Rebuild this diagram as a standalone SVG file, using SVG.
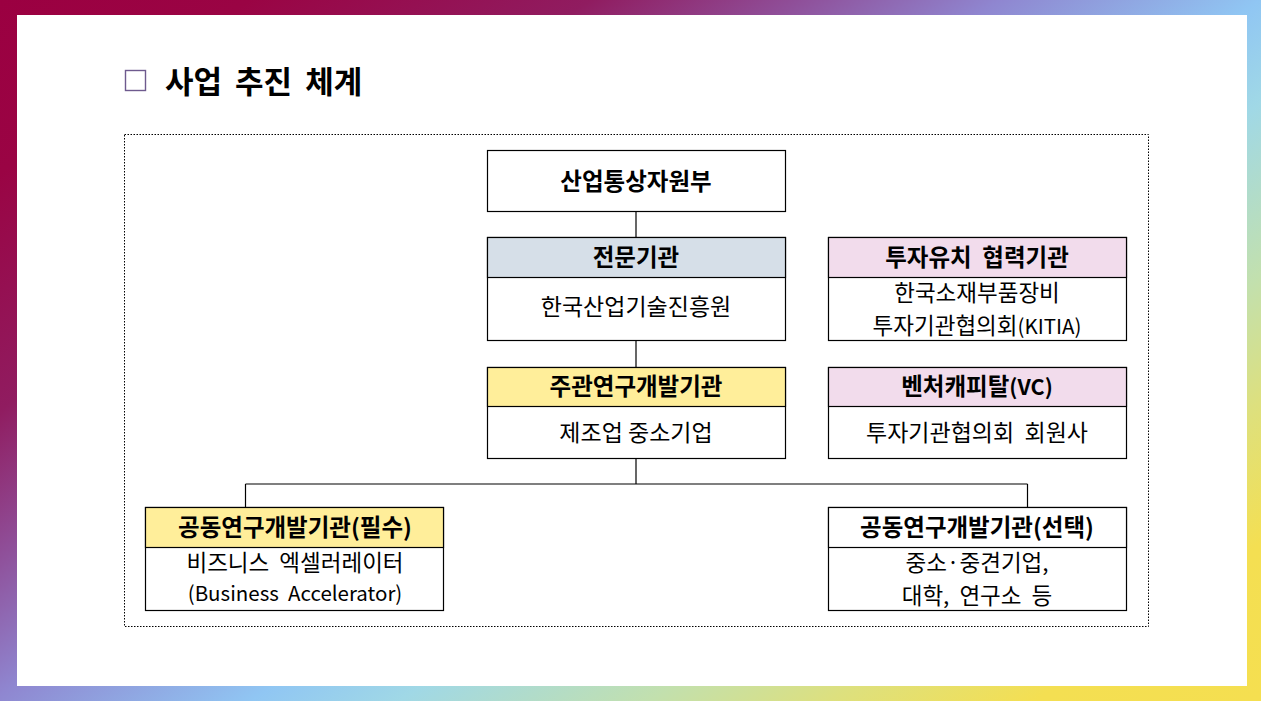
<svg xmlns="http://www.w3.org/2000/svg" width="1261" height="701" viewBox="0 0 1261 701">
<defs>
<linearGradient id="frame" gradientUnits="userSpaceOnUse" x1="0" y1="0" x2="739" y2="1064">
<stop offset="0" stop-color="#9B0041"/>
<stop offset="0.11" stop-color="#9A0444"/>
<stop offset="0.26" stop-color="#901C60"/>
<stop offset="0.35" stop-color="#8F4E98"/>
<stop offset="0.44" stop-color="#8F86D0"/>
<stop offset="0.555" stop-color="#90C6F3"/>
<stop offset="0.62" stop-color="#A0D8E6"/>
<stop offset="0.73" stop-color="#C2E0AE"/>
<stop offset="0.81" stop-color="#DDE07E"/>
<stop offset="0.9" stop-color="#F4DF52"/>
<stop offset="1" stop-color="#F5DF50"/>
</linearGradient>
<style>
.box{fill:#FFFFFF;stroke:#000;stroke-width:1.2}
.hd{stroke:#000;stroke-width:1.2}
.blue{fill:#D6DFE8}
.pink{fill:#F2DCEC}
.yel{fill:#FFEE9A}
.wht{fill:#FFFFFF}
.t{font-family:"Malgun Gothic","Noto Sans CJK KR","Noto Sans",sans-serif;font-size:23px;fill:#000;text-anchor:middle;white-space:pre}
.b{font-weight:bold;font-size:23.5px}
.two{font-size:22.5px}
.lat{font-size:20.5px}
.conn line{stroke:#000;stroke-width:1.2;fill:none}
</style>
</defs>
<rect x="0" y="0" width="1261" height="701" fill="url(#frame)"/>
<rect x="17" y="15" width="1230" height="671" fill="#FFFFFF"/>

<g id="title">
<rect x="125.5" y="70.5" width="20" height="20" fill="none" stroke="#6E5A8E" stroke-width="1.4"/>
<text x="165" y="93" font-family="'Malgun Gothic','Noto Sans CJK KR',sans-serif" font-size="31" font-weight="bold" fill="#000" word-spacing="6">사업 추진 체계</text>
</g>

<rect id="container" x="124.5" y="134.5" width="1024" height="492" fill="none" stroke="#000" stroke-width="1" stroke-dasharray="1.5 1.5"/>

<g class="conn" id="connectors">
<line x1="636" y1="211" x2="636" y2="237"/>
<line x1="636" y1="340" x2="636" y2="367"/>
<line x1="636" y1="458" x2="636" y2="484"/>
<line x1="245.5" y1="484" x2="1027.5" y2="484"/>
<line x1="245.5" y1="484" x2="245.5" y2="507"/>
<line x1="1027.5" y1="484" x2="1027.5" y2="507"/>
</g>

<g id="node-motie">
<rect class="box" x="487.5" y="150.5" width="298" height="61"/>
<text class="t b" x="636" y="190">산업통상자원부</text>
</g>

<g id="node-kiat">
<rect class="box" x="487.5" y="237.5" width="298" height="103"/>
<rect class="hd blue" x="487.5" y="237.5" width="298" height="40"/>
<text class="t b" x="636" y="266">전문기관</text>
<text class="t" x="636" y="315">한국산업기술진흥원</text>
</g>

<g id="node-kitia">
<rect class="box" x="828.5" y="237.5" width="298" height="103"/>
<rect class="hd pink" x="828.5" y="237.5" width="298" height="40"/>
<text class="t b" x="977" y="266">투자유치  협력기관</text>
<text class="t two" x="977" y="301">한국소재부품장비</text>
<text class="t two" x="977" y="334">투자기관협의회<tspan class="lat">(KITIA)</tspan></text>
</g>

<g id="node-lead">
<rect class="box" x="487.5" y="367.5" width="298" height="91"/>
<rect class="hd yel" x="487.5" y="367.5" width="298" height="39"/>
<text class="t b" x="636" y="395">주관연구개발기관</text>
<text class="t" x="636" y="441">제조업 중소기업</text>
</g>

<g id="node-vc">
<rect class="box" x="828.5" y="367.5" width="298" height="91"/>
<rect class="hd pink" x="828.5" y="367.5" width="298" height="39"/>
<text class="t b" x="977" y="395">벤처캐피탈<tspan style="font-size:21.5px">(VC)</tspan></text>
<text class="t" x="977" y="441">투자기관협의회  회원사</text>
</g>

<g id="node-joint-required">
<rect class="box" x="145.5" y="507.5" width="298" height="103"/>
<rect class="hd yel" x="145.5" y="507.5" width="298" height="40"/>
<text class="t b" x="295" y="536">공동연구개발기관(필수)</text>
<text class="t two" x="295" y="571">비즈니스  엑셀러레이터</text>
<text class="t lat" x="295" y="601">(Business  Accelerator)</text>
</g>

<g id="node-joint-optional">
<rect class="box" x="828.5" y="507.5" width="298" height="103"/>
<rect class="hd wht" x="828.5" y="507.5" width="298" height="40"/>
<text class="t b" x="977" y="536">공동연구개발기관(선택)</text>
<text class="t two" x="977" y="571">중소·중견기업,</text>
<text class="t two" x="977" y="604">대학,  연구소  등</text>
</g>
</svg>
